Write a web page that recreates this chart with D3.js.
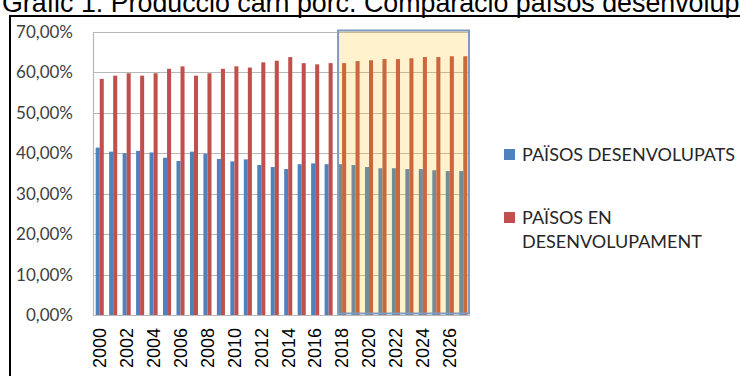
<!DOCTYPE html>
<html>
<head>
<meta charset="utf-8">
<script src="https://cdn.jsdelivr.net/npm/d3@7"></script>
<style>
  html, body { margin: 0; padding: 0; background: #fff; }
  svg { display: block; }
</style>
</head>
<body>
<svg id="chart" width="740" height="376"></svg>
<script>
// Share of world pork production, developed vs developing countries (2018 onward = projection)
const years = [2000, 2001, 2002, 2003, 2004, 2005, 2006, 2007, 2008, 2009,
               2010, 2011, 2012, 2013, 2014, 2015, 2016, 2017, 2018, 2019,
               2020, 2021, 2022, 2023, 2024, 2025, 2026, 2027];
const developed = [41.4, 40.4, 40.0, 40.6, 40.2, 38.9, 38.1, 40.4, 39.9, 38.6,
                   38.0, 38.5, 37.1, 36.6, 36.1, 37.3, 37.5, 37.3, 37.3, 37.1,
                   36.6, 36.3, 36.3, 36.1, 36.1, 35.8, 35.6, 35.6];
const developing = [58.4, 59.2, 59.8, 59.2, 59.8, 60.9, 61.5, 59.2, 59.8, 60.9,
                    61.5, 61.2, 62.5, 62.9, 63.8, 62.3, 62.0, 62.3, 62.3, 62.8,
                    63.0, 63.3, 63.3, 63.5, 63.8, 63.8, 64.0, 64.0];
const yTicks = [0, 10, 20, 30, 40, 50, 60, 70];
const seriesNames = ["PAÏSOS DESENVOLUPATS", "PAÏSOS EN DESENVOLUPAMENT"];
const projectionStart = 2018;

const colors = ["#4F81BD", "#C0504D"];
const svg = d3.select("#chart");

// Title (runs off the top edge of the frame)
svg.append("text")
  .attr("x", 2).attr("y", 12)
  .attr("font-family", "Liberation Sans, Arial, sans-serif")
  .attr("font-size", 26.8)
  .attr("fill", "#000")
  .text("Gràfic 1: Producció carn porc. Comparació països desenvolupats i en desenvolupament");

// Outer frame
svg.append("line").attr("x1", 10).attr("x2", 740).attr("y1", 16).attr("y2", 16)
  .attr("stroke", "#000").attr("stroke-width", 2);
svg.append("line").attr("x1", 10).attr("x2", 10).attr("y1", 15).attr("y2", 376)
  .attr("stroke", "#000").attr("stroke-width", 2);

const plot = { left: 93, right: 470, top: 32, bottom: 315 };

const x = d3.scaleBand()
  .domain(years)
  .range([plot.left, plot.right])
  .paddingInner(0.4)
  .paddingOuter(0.2);
const xSub = d3.scaleBand().domain([0, 1]).range([0, x.bandwidth()]);
const y = d3.scaleLinear().domain([0, 70]).range([plot.bottom, plot.top]);

// Gridlines
svg.append("g").selectAll("line").data(yTicks).join("line")
  .attr("x1", plot.left).attr("x2", plot.right)
  .attr("y1", d => Math.round(y(d)) + 0.5).attr("y2", d => Math.round(y(d)) + 0.5)
  .attr("stroke", "#B8B8B8").attr("stroke-width", 1.2);
svg.append("line")
  .attr("x1", plot.left + 0.5).attr("x2", plot.left + 0.5)
  .attr("y1", y(70)).attr("y2", y(0))
  .attr("stroke", "#B8B8B8").attr("stroke-width", 1.2);

// Bars
const rows = years.map((yr, i) => ({ year: yr, values: [developed[i], developing[i]] }));
const groups = svg.append("g").selectAll("g").data(rows).join("g")
  .attr("transform", d => `translate(${x(d.year)},0)`);
groups.selectAll("rect").data(d => d.values.map((v, k) => ({ v, k }))).join("rect")
  .attr("x", d => xSub(d.k))
  .attr("width", xSub.bandwidth())
  .attr("y", d => y(d.v))
  .attr("height", d => y(0) - y(d.v))
  .attr("fill", d => colors[d.k]);

// Projection period highlight
svg.append("rect")
  .attr("x", x(projectionStart))
  .attr("y", y(70) - 1.5)
  .attr("width", plot.right - 1 - x(projectionStart))
  .attr("height", y(0) - y(70))
  .attr("fill", "#FFC000").attr("fill-opacity", 0.2)
  .attr("stroke", "#7E9BC0").attr("stroke-width", 2);

// Y axis labels
const yAxis = d3.axisLeft(y).tickValues(yTicks)
  .tickFormat(d => d3.format(".2f")(d).replace(".", ",") + "%")
  .tickSize(0).tickPadding(0);
svg.append("g")
  .attr("transform", `translate(${plot.left - 20},0)`)
  .call(yAxis)
  .call(g => g.select(".domain").remove())
  .selectAll("text")
  .attr("font-family", "Lato, sans-serif")
  .attr("font-size", 17)
  .attr("fill", "#404040");

// X axis labels (every other year), rotated
const xAxis = d3.axisBottom(x).tickValues(years.filter(d => d % 2 === 0))
  .tickSize(0).tickPadding(0);
svg.append("g")
  .attr("transform", `translate(0,${plot.bottom + 13})`)
  .call(xAxis)
  .call(g => g.select(".domain").remove())
  .selectAll("text")
  .attr("font-family", "Liberation Sans, Arial, sans-serif")
  .attr("font-size", 18)
  .attr("fill", "#000")
  .attr("text-anchor", "end")
  .attr("dy", "0.35em")
  .attr("transform", "rotate(-90)")
  .attr("x", 0).attr("y", 0);

// Legend
const legend = svg.append("g").attr("font-family", "Lato, sans-serif")
  .attr("font-size", 18).attr("fill", "#262626");
const legendRows = [
  { lines: [seriesNames[0]], y: 149 },
  { lines: ["PAÏSOS EN", "DESENVOLUPAMENT"], y: 212 }
];
legendRows.forEach((r, k) => {
  legend.append("rect").attr("x", 504).attr("y", r.y).attr("width", 11).attr("height", 11)
    .attr("fill", colors[k]);
  r.lines.forEach((t, j) => {
    legend.append("text").attr("x", 522).attr("y", r.y + 12 + j * 24).text(t);
  });
});
</script>
</body>
</html>
